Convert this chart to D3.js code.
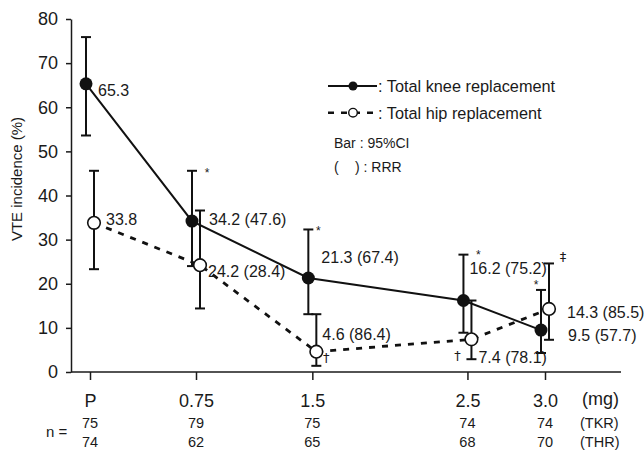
<!DOCTYPE html>
<html>
<head>
<meta charset="utf-8">
<script src="https://cdn.jsdelivr.net/npm/d3@7"></script>
<style>
  body { margin: 0; background: #fff; }
  svg { display: block; font-family: "Liberation Sans", Arial, sans-serif; }
  text { fill: #1a1a1a; }
</style>
</head>
<body>
<div id="chart"></div>
<script>
// --- data ---
const doses = [0, 0.75, 1.5, 2.5, 3.0];
const doseLabels = ["P", "0.75", "1.5", "2.5", "3.0"];
const yTicks = [0, 10, 20, 30, 40, 50, 60, 70, 80];

const tkrValue = [65.3, 34.2, 21.3, 16.2, 9.5];
const tkrLow = [53.6, 24.0, 13.1, 8.9, 4.3];
const tkrHigh = [75.9, 45.6, 32.3, 26.6, 18.6];
const tkrRRR = [null, 47.6, 67.4, 75.2, 57.7];
const tkrN = [75, 79, 75, 74, 74];

const thrValue = [33.8, 24.2, 4.6, 7.4, 14.3];
const thrLow = [23.3, 14.4, 1.4, 2.9, 7.3];
const thrHigh = [45.6, 36.6, 13.1, 16.2, 24.6];
const thrRRR = [null, 28.4, 86.4, 78.1, 85.5];
const thrN = [74, 62, 65, 68, 70];

// significance marks: series, index, symbol
const marks = [
  { s: "tkr", i: 1, sym: "*" },
  { s: "tkr", i: 2, sym: "*" },
  { s: "tkr", i: 3, sym: "*" },
  { s: "tkr", i: 4, sym: "*" },
  { s: "thr", i: 4, sym: "\u2021" },
  { s: "thr", i: 2, sym: "\u2020" },
  { s: "thr", i: 3, sym: "\u2020" },
];

// --- layout (label offsets from marker centre) ---
const tkrLabelOff = [[12, 12], [17, 4], [13, -15], [6, -27], [27, 11]];
const thrLabelOff = [[12, 2], [8, 12], [6, -12], [7, 24], [18, 9]];
const markOff = {
  "tkr-1": [15, -1, "high"], "tkr-2": [10, -1, "high"], "tkr-3": [15, -3, "high"],
  "tkr-4": [-5, -8, "high"], "thr-4": [14, -7, "high"],
  "thr-2": [10, 5, "val"], "thr-3": [-14, 16, "val"],
};

const W = 644, H = 450;
const svg = d3.select("#chart").append("svg").attr("width", W).attr("height", H);

const x = d3.scaleLinear().domain([0, 0.75, 3.0]).range([90, 196, 545]);
const y = d3.scaleLinear().domain([0, 80]).range([372, 19]);
const axisLeftX = 71, axisRight = 621;
const shift = { tkr: -4, thr: 4 };

// y axis
const yAxis = svg.append("g")
  .attr("transform", `translate(${axisLeftX},0)`)
  .call(d3.axisLeft(y).tickValues(yTicks).tickSize(5).tickSizeOuter(0).tickPadding(8));
yAxis.select(".domain").attr("stroke", "#1a1a1a").attr("stroke-width", 1.5);
yAxis.selectAll(".tick line").attr("stroke", "#1a1a1a").attr("stroke-width", 1.5);
yAxis.selectAll(".tick text").attr("font-size", 18).attr("fill", "#1a1a1a")
  .attr("font-family", "Liberation Sans, Arial, sans-serif");

// x axis
svg.append("line")
  .attr("x1", axisLeftX).attr("x2", axisRight)
  .attr("y1", y(0)).attr("y2", y(0))
  .attr("stroke", "#1a1a1a").attr("stroke-width", 1.5);
const xAxis = svg.append("g")
  .attr("transform", `translate(0,${y(0)})`)
  .call(d3.axisBottom(x).tickValues(doses).tickSize(8).tickSizeOuter(0)
    .tickFormat((d, i) => doseLabels[i]).tickPadding(14));
xAxis.select(".domain").remove();
xAxis.selectAll(".tick line").attr("stroke", "#1a1a1a").attr("stroke-width", 1.5);
xAxis.selectAll(".tick text").attr("font-size", 18).attr("fill", "#1a1a1a")
  .attr("font-family", "Liberation Sans, Arial, sans-serif");

svg.append("text").attr("x", 582).attr("y", 405).attr("font-size", 18).text("(mg)");

// y label
svg.append("text")
  .attr("transform", `translate(22,179) rotate(-90)`)
  .attr("text-anchor", "middle")
  .attr("font-size", 15)
  .text("VTE incidence (%)");

// n table
svg.append("text").attr("x", 46).attr("y", 437).attr("font-size", 15).text("n =");
svg.selectAll("text.ntkr").data(tkrN).join("text").attr("class", "ntkr")
  .attr("x", (d, i) => x(doses[i])).attr("y", 427.5)
  .attr("text-anchor", "middle").attr("font-size", 14.5).text(d => d);
svg.selectAll("text.nthr").data(thrN).join("text").attr("class", "nthr")
  .attr("x", (d, i) => x(doses[i])).attr("y", 447)
  .attr("text-anchor", "middle").attr("font-size", 14.5).text(d => d);
svg.append("text").attr("x", 580).attr("y", 427.5).attr("font-size", 14.5).text("(TKR)");
svg.append("text").attr("x", 580).attr("y", 447).attr("font-size", 14.5).text("(THR)");

function makeSeries(key, vals, lo, hi) {
  return vals.map((v, i) => ({ key, i, v, lo: lo[i], hi: hi[i], px: x(doses[i]) + shift[key] }));
}
const tkr = makeSeries("tkr", tkrValue, tkrLow, tkrHigh);
const thr = makeSeries("thr", thrValue, thrLow, thrHigh);

const line = d3.line().x(d => d.px).y(d => y(d.v));

// lines
svg.append("path").datum(thr).attr("d", line)
  .attr("fill", "none").attr("stroke", "#111").attr("stroke-width", 2.8)
  .attr("stroke-dasharray", "6,7");
svg.append("path").datum(tkr).attr("d", line)
  .attr("fill", "none").attr("stroke", "#111").attr("stroke-width", 2);

// error bars
function drawBars(data, cls) {
  const g = svg.append("g").attr("class", cls).attr("stroke", "#111").attr("stroke-width", 2);
  g.selectAll("line.v").data(data).join("line").attr("class", "v")
    .attr("x1", d => d.px).attr("x2", d => d.px)
    .attr("y1", d => y(d.lo)).attr("y2", d => y(d.hi));
  g.selectAll("line.hi").data(data).join("line").attr("class", "hi")
    .attr("x1", d => d.px - 5).attr("x2", d => d.px + 5)
    .attr("y1", d => y(d.hi)).attr("y2", d => y(d.hi));
  g.selectAll("line.lo").data(data).join("line").attr("class", "lo")
    .attr("x1", d => d.px - 5).attr("x2", d => d.px + 5)
    .attr("y1", d => y(d.lo)).attr("y2", d => y(d.lo));
}
drawBars(tkr, "bars-tkr");
drawBars(thr, "bars-thr");

// markers
svg.selectAll("circle.tkr").data(tkr).join("circle").attr("class", "tkr")
  .attr("cx", d => d.px).attr("cy", d => y(d.v)).attr("r", 6.5)
  .attr("fill", "#111");
svg.selectAll("circle.thr").data(thr).join("circle").attr("class", "thr")
  .attr("cx", d => d.px).attr("cy", d => y(d.v)).attr("r", 6.3)
  .attr("fill", "#fff").attr("stroke", "#111").attr("stroke-width", 1.6);

// value labels
const fmt = (v, r) => r == null ? v.toFixed(1) : `${v.toFixed(1)} (${r.toFixed(1)})`;
svg.selectAll("text.ltkr").data(tkr).join("text").attr("class", "ltkr")
  .attr("x", d => d.px + tkrLabelOff[d.i][0]).attr("y", d => y(d.v) + tkrLabelOff[d.i][1])
  .attr("font-size", 16).text(d => fmt(d.v, tkrRRR[d.i]));
svg.selectAll("text.lthr").data(thr).join("text").attr("class", "lthr")
  .attr("x", d => d.px + thrLabelOff[d.i][0]).attr("y", d => y(d.v) + thrLabelOff[d.i][1])
  .attr("font-size", 16).text(d => fmt(d.v, thrRRR[d.i]));

// significance symbols
const bySeries = { tkr, thr };
svg.selectAll("text.mark").data(marks).join("text").attr("class", "mark")
  .attr("text-anchor", "middle")
  .attr("fill", "#111")
  .attr("font-family", d => d.sym === "*" ? "Liberation Sans, Arial, sans-serif" : "DejaVu Sans, sans-serif")
  .attr("font-size", d => d.sym === "*" ? 12 : 13)
  .attr("x", d => bySeries[d.s][d.i].px + markOff[`${d.s}-${d.i}`][0])
  .attr("y", d => {
    const p = bySeries[d.s][d.i];
    const o = markOff[`${d.s}-${d.i}`];
    const base = o[2] === "high" ? y(p.hi) : y(p.v);
    return base + o[1] + (d.sym === "*" ? 7 : 5);
  })
  .text(d => d.sym);

// legend
const lg = svg.append("g");
lg.append("line").attr("x1", 328).attr("x2", 377).attr("y1", 86).attr("y2", 86)
  .attr("stroke", "#111").attr("stroke-width", 2);
lg.append("circle").attr("cx", 353).attr("cy", 86).attr("r", 4.5).attr("fill", "#111");
lg.append("text").attr("x", 378).attr("y", 92).attr("font-size", 16.3).text(": Total knee replacement");
lg.append("line").attr("x1", 328).attr("x2", 377).attr("y1", 112.7).attr("y2", 112.7)
  .attr("stroke", "#111").attr("stroke-width", 2.6).attr("stroke-dasharray", "6,7");
lg.append("circle").attr("cx", 353).attr("cy", 112.7).attr("r", 4.3)
  .attr("fill", "#fff").attr("stroke", "#111").attr("stroke-width", 1.4);
lg.append("text").attr("x", 378).attr("y", 118.5).attr("font-size", 16.3).text(": Total hip replacement");
lg.append("text").attr("x", 334).attr("y", 148.3).attr("font-size", 14).text("Bar : 95%CI");
lg.append("text").attr("x", 334).attr("y", 171.7).attr("font-size", 14).text("(");
lg.append("text").attr("x", 355).attr("y", 171.7).attr("font-size", 14).text(") : RRR");
</script>
</body>
</html>
